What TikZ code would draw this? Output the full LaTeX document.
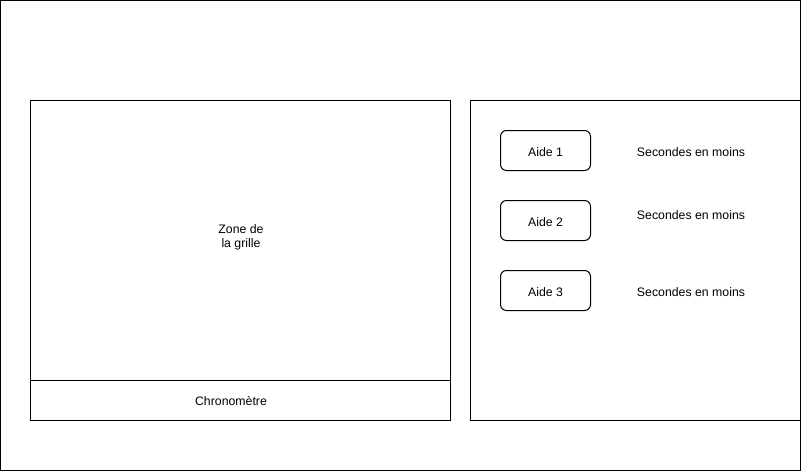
\documentclass[tikz,border=0pt]{standalone}
\usepackage{fontspec}
\setmainfont{Liberation Sans}
\begin{document}
\begin{tikzpicture}[x=1pt,y=-1pt,
  box/.style={draw,line width=1pt},
  aide/.style={draw,line width=1pt,rounded corners=6pt,minimum width=90pt,minimum height=40pt,inner sep=0pt},
  lbl/.style={font=\fontsize{12.3pt}{14pt}\selectfont,inner sep=0pt,align=center}]
\useasboundingbox (0,0) rectangle (801,471);
\draw[box] (0.5,0.5) rectangle (800.5,470.5);
\draw[box] (30.5,100.5) rectangle (450.5,420.5);
\draw[box] (30.5,380.5) -- (450.5,380.5);
\draw[box] (470.5,100.5) rectangle (800.5,420.5);
\node[lbl] (zone) at (241,237) {Zone de\\la grille};
\node[lbl] (chrono) at (231,401) {Chronomètre};
\node[aide] (a1) at (545.5,150.5) {};
\node[aide] (a2) at (545.5,220.5) {};
\node[aide] (a3) at (545.5,290.5) {};
\node[lbl] at (a1.center) [yshift=-1.5pt] {Aide 1};
\node[lbl] at (a2.center) [yshift=-1.5pt] {Aide 2};
\node[lbl] at (a3.center) [yshift=-1.5pt] {Aide 3};
\node[lbl] (s1) at (691,152) {Secondes en moins};
\node[lbl] (s2) at (691,215) {Secondes en moins};
\node[lbl] (s3) at (691,292) {Secondes en moins};
\end{tikzpicture}
\end{document}
